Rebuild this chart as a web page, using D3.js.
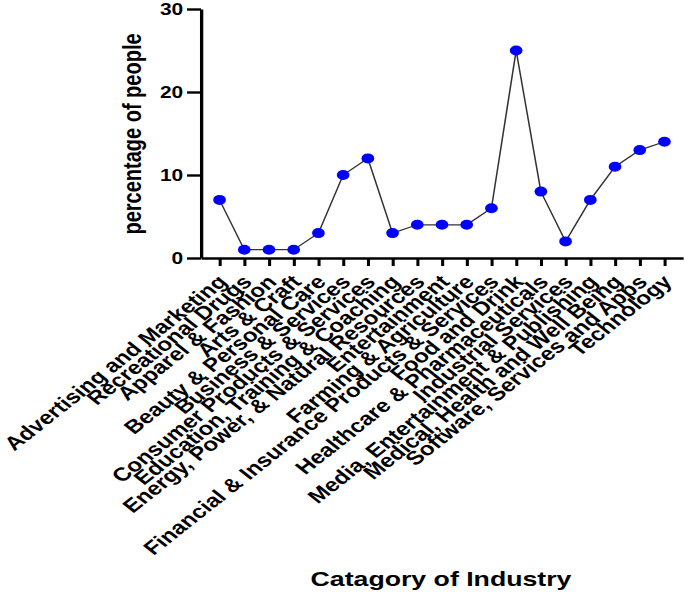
<!DOCTYPE html>
<html>
<head>
<meta charset="utf-8">
<script src="https://cdn.jsdelivr.net/npm/d3@7"></script>
<style>
    body { margin: 0; background: #fff; }
    text { font-family: "Liberation Sans", Arial, sans-serif; font-weight: bold; }
</style>
</head>
<body>
<script>
// industry categories in the order they appear on the x axis
const categories = [
    "Advertising and Marketing",
    "Recreational Drugs",
    "Apparel & Fashion",
    "Arts & Craft",
    "Beauty & Personal Care",
    "Business & Services",
    "Consumer Products & Services",
    "Education, Training & Coaching",
    "Energy, Power, & Natural Resources",
    "Entertainment",
    "Farming & Agriculture",
    "Financial & Insurance Products & Services",
    "Food and Drink",
    "Healthcare & Pharmaceuticals",
    "Industrial Services",
    "Media, Entertainment & Publishing",
    "Medical, Health and Well Being",
    "Software, Services and Apps",
    "Technology"
];
// percentage of people per category
const percentages = [7, 1, 1, 1, 3, 10, 12, 3, 4, 4, 4, 6, 25, 8, 2, 7, 11, 13, 14];
const yTicks = [0, 10, 20, 30];

const xTitle = "Catagory of Industry";
const yTitle = "percentage of people";

// the picture is stretched sideways, so draw in a squeezed space and stretch it back
const stretch = 1.27;
const width = 685, height = 594;

var svg = d3.select("body").append("svg")
    .attr("width", width)
    .attr("height", height);

var g = svg.append("g")
    .attr("transform", "scale(" + stretch + ",1)");

var x = d3.scalePoint()
    .domain(categories)
    .range([201 / stretch, 683 / stretch])
    .padding(0.75);

var y = d3.scaleLinear()
    .domain([0, 30])
    .range([258, 9]);

// x axis
var xAxis = g.append("g")
    .attr("transform", "translate(0," + y(0) + ")")
    .call(d3.axisBottom(x).tickSize(8).tickSizeOuter(0).tickFormat(""));
xAxis.select(".domain").attr("stroke", "#000").attr("stroke-width", 2.6);
xAxis.selectAll(".tick line").attr("stroke", "#000").attr("stroke-width", 2.4);

// rotated category labels
g.selectAll(".cat-label")
    .data(categories)
    .enter().append("text")
    .attr("class", "cat-label")
    .attr("text-anchor", "end")
    .attr("font-size", "19px")
    .attr("fill", "#000")
    .attr("transform", d => "translate(" + (x(d) + 7) + ",283) rotate(-45)")
    .text(d => d);

// y axis
var yAxis = g.append("g")
    .attr("transform", "translate(" + (201 / stretch) + ",0)")
    .call(d3.axisLeft(y).tickValues(yTicks).tickSize(11).tickSizeOuter(0).tickPadding(3));
yAxis.select(".domain").attr("stroke", "#000").attr("stroke-width", 2.6);
yAxis.selectAll(".tick line").attr("stroke", "#000").attr("stroke-width", 2.4);
yAxis.selectAll(".tick text")
    .attr("font-size", "16.5px")
    .attr("font-family", "Liberation Sans, Arial, sans-serif")
    .attr("font-weight", "bold")
    .attr("fill", "#000");

// connecting line
g.append("path")
    .datum(percentages)
    .attr("fill", "none")
    .attr("stroke", "#333")
    .attr("stroke-width", 1.2)
    .attr("d", d3.line()
        .x((d, i) => x(categories[i]))
        .y(d => y(d)));

// points
g.selectAll(".dot")
    .data(percentages)
    .enter().append("circle")
    .attr("class", "dot")
    .attr("cx", (d, i) => x(categories[i]))
    .attr("cy", d => y(d))
    .attr("r", 5)
    .attr("fill", "#0000ff");

// axis titles
g.append("text")
    .text(yTitle)
    .attr("text-anchor", "middle")
    .attr("font-size", "20px")
    .attr("fill", "#000")
    .attr("transform", "translate(" + (141 / stretch) + ",134) rotate(-90)");

g.append("text")
    .text(xTitle)
    .attr("text-anchor", "middle")
    .attr("font-size", "21px")
    .attr("fill", "#000")
    .attr("x", 441 / stretch)
    .attr("y", 586);
</script>
</body>
</html>
